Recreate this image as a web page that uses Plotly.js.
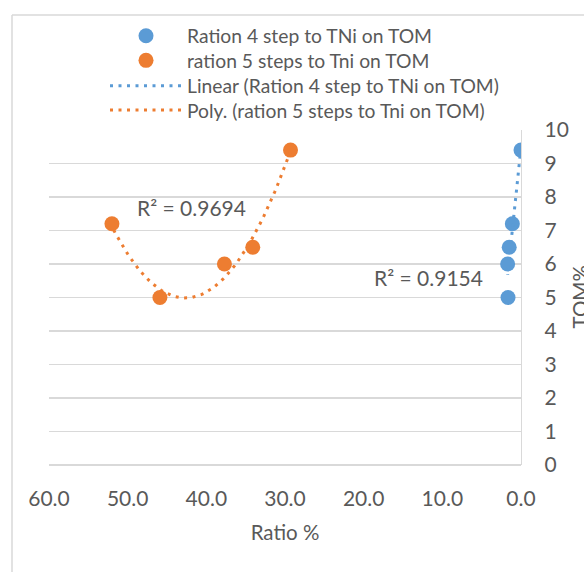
<!DOCTYPE html>
<html>
<head>
<meta charset="utf-8">
<script src="https://cdn.plot.ly/plotly-3.0.1.min.js"></script>
<style>html,body{margin:0;padding:0;background:#fff;}#chart{width:584px;height:572px;}</style>
</head>
<body>
<div id="chart"></div>
<script>
// ---- data ----
const seriesNames = ["Ration 4 step to TNi on TOM", "ration 5 steps to Tni on TOM"];
const trendNames = ["Linear (Ration 4 step to TNi on TOM)", "Poly. (ration 5 steps to Tni on TOM)"];
const ratio4 = [0.0, 1.1, 1.5, 1.7, 1.65];
const tom4 = [9.4, 7.2, 6.5, 6.0, 5.0];
const ratio5 = [52.0, 45.9, 37.7, 34.1, 29.3];
const tom5 = [7.2, 5.0, 6.0, 6.5, 9.4];
const r2Labels = ["R² = 0.9154", "R² = 0.9694"];
const xTitle = "Ratio %";
const yTitle = "TOM%";

// ---- trendline fits (least squares) ----
function linFit(x, y) {
  const n = x.length;
  const mx = x.reduce((a, b) => a + b, 0) / n, my = y.reduce((a, b) => a + b, 0) / n;
  let sxx = 0, sxy = 0;
  for (let i = 0; i < n; i++) { sxx += (x[i] - mx) ** 2; sxy += (x[i] - mx) * (y[i] - my); }
  const b = sxy / sxx; return [my - b * mx, b];
}
function polyFit2(x, y) {
  const S = [0, 0, 0, 0, 0], T = [0, 0, 0];
  for (let i = 0; i < x.length; i++) {
    for (let k = 0; k < 5; k++) S[k] += Math.pow(x[i], k);
    for (let k = 0; k < 3; k++) T[k] += y[i] * Math.pow(x[i], k);
  }
  const A = [[S[0], S[1], S[2], T[0]], [S[1], S[2], S[3], T[1]], [S[2], S[3], S[4], T[2]]];
  for (let c = 0; c < 3; c++) {
    let p = c; for (let r = c + 1; r < 3; r++) if (Math.abs(A[r][c]) > Math.abs(A[p][c])) p = r;
    [A[c], A[p]] = [A[p], A[c]];
    for (let r = 0; r < 3; r++) if (r !== c) {
      const f = A[r][c] / A[c][c];
      for (let k = c; k < 4; k++) A[r][k] -= f * A[c][k];
    }
  }
  return [A[0][3] / A[0][0], A[1][3] / A[1][1], A[2][3] / A[2][2]];
}
function sampleRange(xs, n) {
  const lo = Math.min(...xs), hi = Math.max(...xs), out = [];
  for (let i = 0; i <= n; i++) out.push(lo + (hi - lo) * i / n);
  return out;
}
const lc = linFit(ratio4, tom4);
const lx = sampleRange(ratio4, 20), ly = lx.map(v => lc[0] + lc[1] * v);
const pc = polyFit2(ratio5, tom5);
const px = sampleRange(ratio5, 80), py = px.map(v => pc[0] + pc[1] * v + pc[2] * v * v);

const BLUE = "#5B9BD5", ORANGE = "#ED7D31", TXT = "#595959", GRID = "#d9d9d9";
const FONT = "Lato, 'Open Sans', sans-serif";

const traces = [
  {x: ratio4, y: tom4, name: seriesNames[0], type: "scatter", mode: "markers",
   marker: {color: BLUE, size: 15}, legend: "legend"},
  {x: ratio5, y: tom5, name: seriesNames[1], type: "scatter", mode: "markers",
   marker: {color: ORANGE, size: 15}, legend: "legend2"},
  {x: lx, y: ly, name: trendNames[0], type: "scatter", mode: "lines",
   line: {color: BLUE, width: 3, dash: "3px,5.5px"}, legend: "legend3"},
  {x: px, y: py, name: trendNames[1], type: "scatter", mode: "lines",
   line: {color: ORANGE, width: 3, dash: "3px,5.5px"}, legend: "legend4"}
];

// plot area in pixels: x 49..521, y 130..465
const L = 49, R = 63, T = 130, B = 107, W = 584 - L - R, H = 572 - T - B;
const pxX = v => (v - L) / W;
const pxY = v => (572 - B - v) / H;

const legendRowsY = [35.7, 60.3, 85.7, 110];
function mkLegend(rowY) {
  return {x: pxX(105), xanchor: "left", y: pxY(rowY - 19), yanchor: "top",
          font: {family: FONT, size: 19.3, color: TXT}, bgcolor: "rgba(0,0,0,0)",
          itemwidth: 72};
}

const layout = {
  width: 584, height: 572,
  margin: {l: L, r: R, t: T, b: B},
  paper_bgcolor: "#fff", plot_bgcolor: "#fff",
  font: {family: FONT, color: TXT, size: 20},
  showlegend: true,
  legend: mkLegend(legendRowsY[0]),
  legend2: mkLegend(legendRowsY[1]),
  legend3: mkLegend(legendRowsY[2]),
  legend4: mkLegend(legendRowsY[3]),
  xaxis: {range: [60, 0], autorange: false, dtick: 10, tick0: 0, tickformat: ".1f",
          showgrid: false, zeroline: false, showline: false, ticks: "",
          ticklabelstandoff: 19,
          tickfont: {family: FONT, size: 21, color: TXT},
          title: {text: xTitle, font: {family: FONT, size: 20.5, color: TXT}, standoff: 16}},
  yaxis: {range: [0, 10], autorange: false, dtick: 1, side: "right",
          showgrid: true, gridcolor: GRID, gridwidth: 1.3,
          zeroline: true, zerolinecolor: GRID, zerolinewidth: 1.3,
          showline: true, linecolor: GRID, linewidth: 1.3, ticks: "",
          ticklabelstandoff: 18,
          tickfont: {family: FONT, size: 21, color: TXT}},
  annotations: [
    {text: r2Labels[1], xref: "paper", yref: "paper", x: pxX(191.5), y: pxY(207),
     showarrow: false, xanchor: "center", yanchor: "middle", font: {family: FONT, size: 21, color: TXT}},
    {text: r2Labels[0], xref: "paper", yref: "paper", x: pxX(428.5), y: pxY(277),
     showarrow: false, xanchor: "center", yanchor: "middle", font: {family: FONT, size: 21, color: TXT}},
    {text: yTitle, xref: "paper", yref: "paper", x: pxX(579), y: pxY(297.5), textangle: -90,
     showarrow: false, xanchor: "center", yanchor: "middle", font: {family: FONT, size: 20.5, color: TXT}}
  ],
  shapes: [
    {type: "line", xref: "paper", yref: "paper", x0: pxX(12), x1: pxX(12), y0: pxY(15), y1: pxY(600),
     line: {color: GRID, width: 1.5}},
    {type: "line", xref: "paper", yref: "paper", x0: pxX(12), x1: pxX(600), y0: pxY(15), y1: pxY(15),
     line: {color: GRID, width: 1.5}}
  ]
};

Plotly.newPlot("chart", traces, layout, {displayModeBar: false, staticPlot: true});
</script>
</body>
</html>
